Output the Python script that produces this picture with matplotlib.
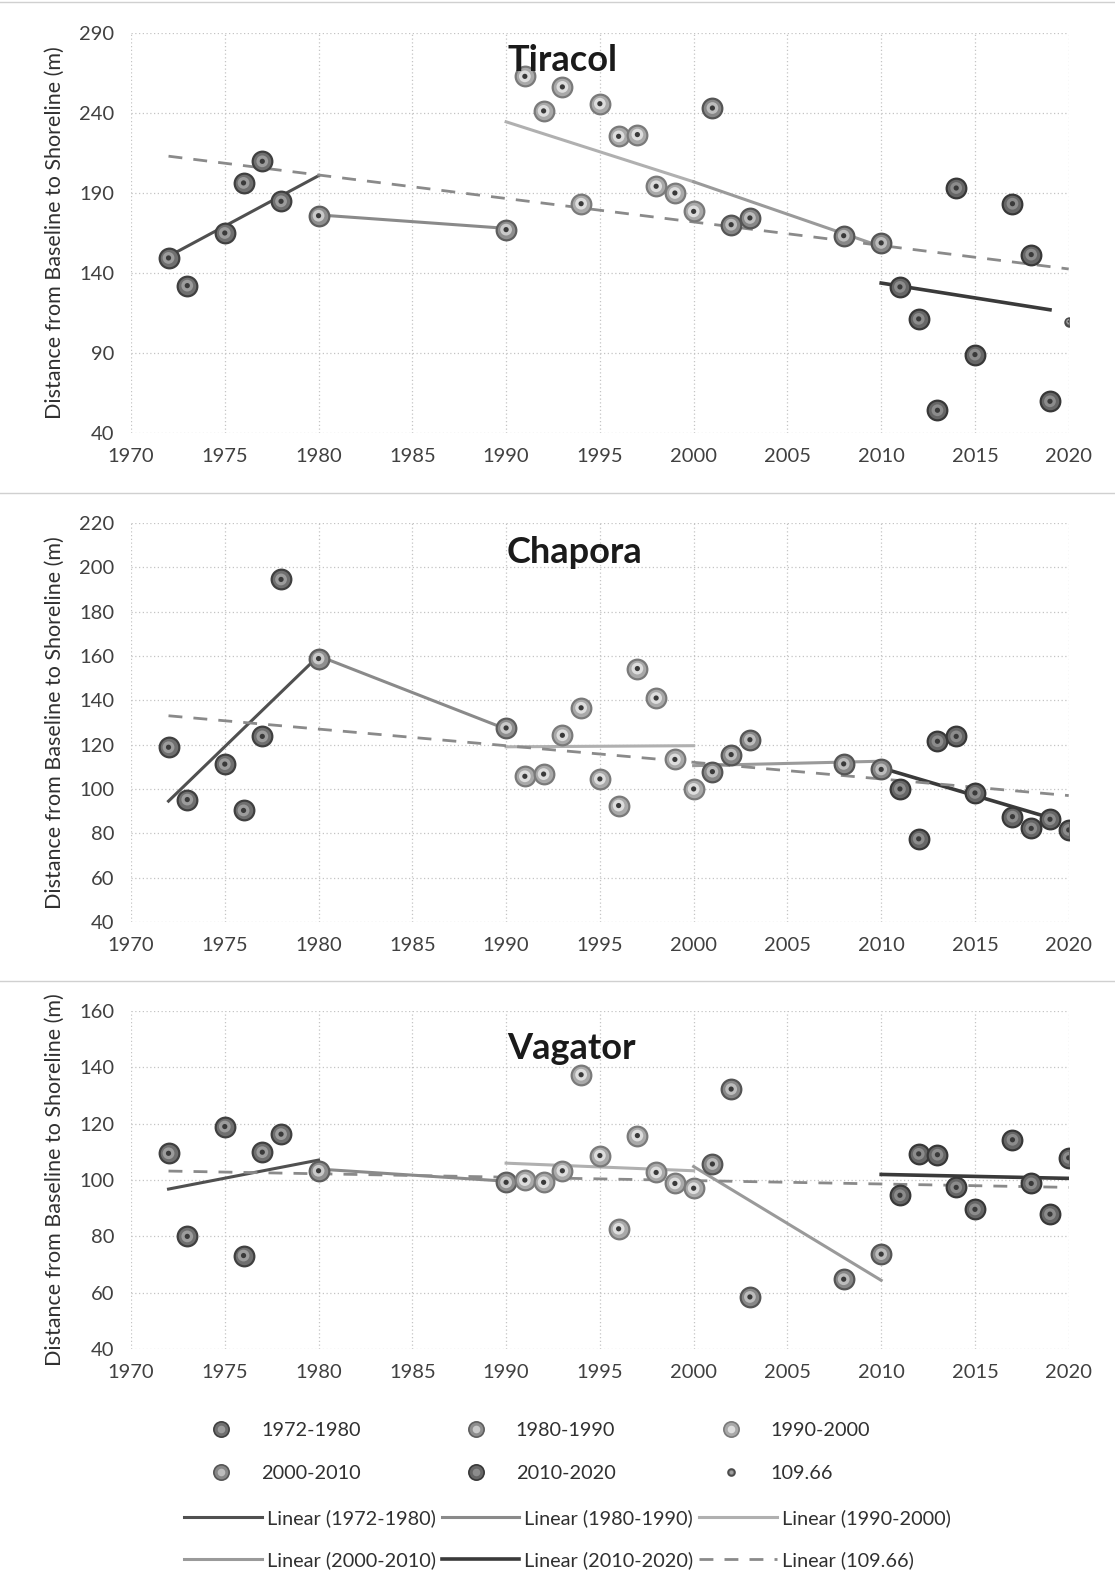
import matplotlib
matplotlib.use('Agg')
import matplotlib.pyplot as plt
from matplotlib.lines import Line2D
from matplotlib.legend_handler import HandlerTuple

plt.rcParams['font.family'] = ['Lato', 'DejaVu Sans']

# periods (series names)
periods = ['1972-1980', '1980-1990', '1990-2000', '2000-2010', '2010-2020', '109.66']

# Tiracol
tiracol_years = [1972, 1973, 1975, 1976, 1977, 1978, 1980, 1990,
                 1991, 1992, 1993, 1994, 1995, 1996, 1997, 1998, 1999, 2000,
                 2001, 2002, 2003, 2008, 2010,
                 2011, 2012, 2013, 2014, 2015, 2017, 2018, 2019, 2020]
tiracol_dist = [149.4, 132.1, 165.0, 196.3, 209.8, 184.8, 175.8, 167.1,
                262.9, 241.3, 256.3, 183.3, 245.8, 225.4, 226.5, 194.2, 190.0, 178.5,
                243.1, 170.2, 174.4, 163.3, 158.8,
                131.3, 111.3, 54.2, 193.1, 89.0, 183.3, 151.5, 59.8, 109.66]
tiracol_period = [0] * 6 + [1] * 2 + [2] * 10 + [3] * 5 + [4] * 8 + [5]
# trendline ends per period: (year0, value0, year1, value1)
tiracol_trend = [(1972, 150.4, 1980, 200.8), (1980, 176.3, 1990, 167.9),
                 (1990, 234.5, 2000, 197.0), (2000, 197.0, 2010, 156.5),
                 (2010, 133.7, 2019, 117.0), (1972, 213.0, 2020, 142.5)]

# Chapora
chapora_years = [1972, 1973, 1975, 1976, 1977, 1978, 1980, 1990,
                 1991, 1992, 1993, 1994, 1995, 1996, 1997, 1998, 1999, 2000,
                 2001, 2002, 2003, 2008, 2010,
                 2011, 2012, 2013, 2014, 2015, 2017, 2018, 2019, 2020]
chapora_dist = [118.8, 95.2, 111.2, 90.3, 123.7, 194.5, 158.8, 127.5,
                105.7, 106.7, 124.2, 136.6, 104.5, 92.5, 154.3, 141.0, 113.3, 100.0,
                107.8, 115.5, 122.2, 111.3, 108.8,
                100.0, 77.5, 121.5, 123.7, 98.2, 87.5, 82.2, 86.3, 81.5]
chapora_period = [0] * 6 + [1] * 2 + [2] * 10 + [3] * 5 + [4] * 9
chapora_trend = [(1972, 94.5, 1980, 160.0), (1980, 160.0, 1990, 127.0),
                 (1990, 119.0, 2000, 119.5), (2000, 110.5, 2010, 112.5),
                 (2010, 109.5, 2019, 87.0), (1972, 133.0, 2020, 97.0)]

# Vagator
vagator_years = [1972, 1973, 1975, 1976, 1977, 1978, 1980, 1990,
                 1991, 1992, 1993, 1994, 1995, 1996, 1997, 1998, 1999, 2000,
                 2001, 2002, 2003, 2008, 2010,
                 2011, 2012, 2013, 2014, 2015, 2017, 2018, 2019, 2020]
vagator_dist = [109.5, 80.0, 119.0, 73.2, 109.9, 116.3, 103.3, 99.2,
                100.0, 99.2, 103.3, 137.4, 108.7, 82.7, 115.8, 102.7, 98.8, 97.1,
                105.7, 132.3, 58.5, 64.8, 73.7,
                94.6, 109.3, 109.0, 97.4, 89.6, 114.3, 98.8, 87.9, 107.9]
vagator_period = [0] * 6 + [1] * 2 + [2] * 10 + [3] * 5 + [4] * 9
vagator_trend = [(1972, 96.8, 1980, 107.1), (1980, 103.9, 1990, 99.6),
                 (1990, 106.0, 2000, 103.3), (2000, 104.8, 2010, 64.4),
                 (2010, 102.0, 2020, 100.6), (1972, 103.2, 2020, 97.4)]

# marker shading: outer face, edge, inner highlight
marker_outer = ['#6f6f6f', '#8e8e8e', '#a9a9a9', '#878787', '#666666', '#707070']
marker_edge = ['#404040', '#5e5e5e', '#7a7a7a', '#555555', '#383838', '#4a4a4a']
marker_inner = ['#9c9c9c', '#c9c9c9', '#dddddd', '#bcbcbc', '#8c8c8c', '#a0a0a0']
marker_size = [200, 200, 200, 200, 200, 35]

line_color = ['#505050', '#8a8a8a', '#b0b0b0', '#9a9a9a', '#3a3a3a', '#8a8a8a']
line_width = [2.2, 2.2, 2.2, 2.2, 2.6, 2.0]

fig = plt.figure(figsize=(11.15, 15.86), dpi=100)

panels = [
    ('Tiracol', tiracol_years, tiracol_dist, tiracol_period, tiracol_trend,
     [0.1175, 0.727, 0.841, 0.2522], range(40, 291, 50), 0.93),
    ('Chapora', chapora_years, chapora_dist, chapora_period, chapora_trend,
     [0.1175, 0.4187, 0.841, 0.2516], range(40, 221, 20), 0.925),
    ('Vagator', vagator_years, vagator_dist, vagator_period, vagator_trend,
     [0.1175, 0.1494, 0.841, 0.2131], range(40, 161, 20), 0.89),
]


def sphere(ax, xs, ys, k, zorder=3):
    s = marker_size[k]
    ax.scatter(xs, ys, s=s, c=marker_outer[k], edgecolors=marker_edge[k],
               linewidths=1.6, zorder=zorder)
    ax.scatter(xs, ys, s=s * 0.36, c=marker_inner[k], edgecolors='none',
               zorder=zorder + 0.1)
    ax.scatter(xs, ys, s=s * 0.07, c='#3a3a3a', edgecolors='none',
               zorder=zorder + 0.2)


def legend_sphere(k):
    ms = 11 if k < 5 else 5
    outer = Line2D([], [], ls='none', marker='o', ms=ms, mfc=marker_outer[k],
                   mec=marker_edge[k], mew=1.2)
    inner = Line2D([], [], ls='none', marker='o', ms=ms * 0.5,
                   mfc=marker_inner[k], mec='none')
    return (outer, inner)


legend_lines = {}
for name, years, dist, period, trend, pos, yticks, ty in panels:
    ax = fig.add_axes(pos)
    ax.set_xlim(1970, 2020)
    ax.set_ylim(yticks[0], yticks[-1])
    ax.set_xticks(range(1970, 2021, 5))
    ax.set_yticks(list(yticks))
    ax.grid(True, linestyle=(0, (1, 2)), color='#c4c4c4', linewidth=0.9)
    ax.set_axisbelow(True)
    for sp in ax.spines.values():
        sp.set_visible(False)
    ax.tick_params(length=0, labelsize=14.5, labelcolor='#404040')
    ax.tick_params(axis='x', pad=11)
    ax.tick_params(axis='y', pad=12)
    ax.set_ylabel('Distance from Baseline to Shoreline (m)', fontsize=15.5,
                  color='#303030', labelpad=10)

    for k in range(len(periods)):
        x0, y0, x1, y1 = trend[k]
        ln, = ax.plot([x0, x1], [y0, y1], color=line_color[k], lw=line_width[k],
                      linestyle=(0, (5, 4)) if k == 5 else '-', zorder=2)
        legend_lines.setdefault(k, ln)
        xs = [x for x, p in zip(years, period) if p == k]
        ys = [y for y, p in zip(dist, period) if p == k]
        if xs:
            sphere(ax, xs, ys, k)

    ax.text(0.401, ty, name, transform=ax.transAxes, ha='left',
            va='center', fontsize=26, fontweight='bold', color='#1a1a1a')

# thin frames separating the three charts
for yf in [0.9985, 0.689, 0.3815]:
    fig.add_artist(Line2D([0.0, 1.0], [yf, yf], color='#d0d0d0', lw=1.0))

# column-major ordering so rows read left to right
order = [0, 3, 1, 4, 2, 5]
fig.legend([legend_sphere(k) for k in order], [periods[k] for k in order],
           handler_map={tuple: HandlerTuple(ndivide=1, pad=0)},
           ncol=3, loc='center', bbox_to_anchor=(0.484, 0.0845), frameon=False,
           fontsize=14.3, labelcolor='#303030', columnspacing=5.2,
           handletextpad=1.4, labelspacing=1.35, handlelength=1.2)
fig.legend([legend_lines[k] for k in order],
           ['Linear (%s)' % periods[k] for k in order],
           ncol=3, loc='center', bbox_to_anchor=(0.509, 0.0295), frameon=False,
           fontsize=14.3, labelcolor='#303030', columnspacing=0.3,
           handletextpad=0.25, labelspacing=1.2, handlelength=3.9)

fig.savefig('out.png', dpi=100)
